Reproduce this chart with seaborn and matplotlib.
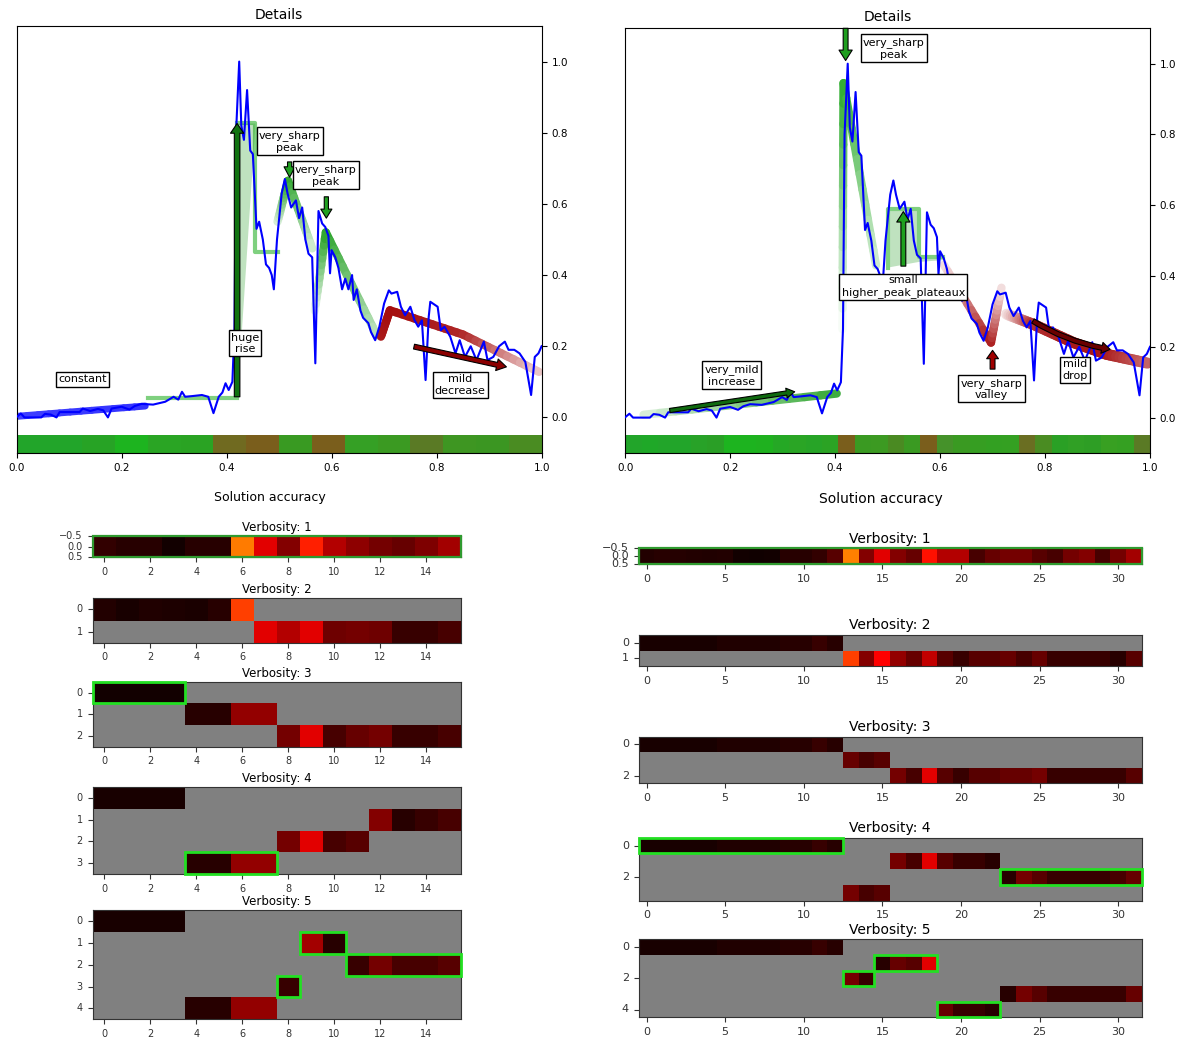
import numpy as np
import matplotlib
matplotlib.use("Agg")
import matplotlib.pyplot as plt
import seaborn as sns
from matplotlib.collections import LineCollection
from matplotlib.patches import Rectangle, Polygon
from matplotlib.colors import to_rgb

# ---------------- data ----------------
# the measured signal (same in both panels)
sig_x = [0.0, 0.008, 0.015, 0.03, 0.047, 0.054, 0.065, 0.076, 0.082, 0.1,
         0.12, 0.126, 0.14, 0.155, 0.165, 0.174, 0.181, 0.2, 0.215, 0.225,
         0.238, 0.26, 0.283, 0.29, 0.299, 0.308, 0.315, 0.321, 0.335, 0.353,
         0.365, 0.375, 0.385, 0.392, 0.398, 0.404, 0.411, 0.415, 0.418, 0.424,
         0.428, 0.433, 0.439, 0.445, 0.45, 0.457, 0.462, 0.469, 0.475, 0.481,
         0.486, 0.49, 0.496, 0.505, 0.511, 0.516, 0.523, 0.532, 0.538, 0.544,
         0.55, 0.556, 0.563, 0.569, 0.575, 0.582, 0.588, 0.594, 0.597, 0.6,
         0.607, 0.613, 0.62, 0.626, 0.632, 0.639, 0.642, 0.648, 0.655, 0.66,
         0.67, 0.675, 0.683, 0.691, 0.7, 0.709, 0.714, 0.725, 0.732, 0.74,
         0.75, 0.758, 0.765, 0.772, 0.779, 0.785, 0.788, 0.797, 0.802, 0.808,
         0.815, 0.826, 0.836, 0.844, 0.854, 0.865, 0.876, 0.89, 0.897, 0.908,
         0.919, 0.93, 0.937, 0.948, 0.958, 0.969, 0.98, 0.987, 0.994, 1.0]
sig_y = [0.001, 0.011, 0.0, 0.0, 0.0, 0.01, 0.008, 0.0, 0.015, 0.015,
         0.015, 0.025, 0.018, 0.024, 0.02, 0.0, 0.025, 0.03, 0.022, 0.032,
         0.038, 0.036, 0.044, 0.05, 0.058, 0.05, 0.072, 0.058, 0.06, 0.063,
         0.058, 0.012, 0.058, 0.07, 0.096, 0.077, 0.1, 0.25, 0.8, 1.0,
         0.82, 0.78, 0.92, 0.75, 0.74, 0.53, 0.55, 0.5, 0.43, 0.42,
         0.4, 0.36, 0.5, 0.63, 0.67, 0.63, 0.59, 0.61, 0.56, 0.59,
         0.5, 0.46, 0.45, 0.152, 0.58, 0.545, 0.535, 0.51, 0.405, 0.47,
         0.45, 0.42, 0.36, 0.39, 0.36, 0.4, 0.33, 0.36, 0.3, 0.28,
         0.265, 0.24, 0.217, 0.255, 0.32, 0.357, 0.348, 0.353, 0.311, 0.287,
         0.311, 0.273, 0.255, 0.273, 0.105, 0.283, 0.325, 0.316, 0.311, 0.245,
         0.255, 0.227, 0.18, 0.217, 0.17, 0.2, 0.161, 0.213, 0.161, 0.17,
         0.2, 0.213, 0.19, 0.19, 0.18, 0.156, 0.063, 0.17, 0.18, 0.2]

# colour strips under the details plots (one colour per segment)
left_strip = ["#22a52a", "#22a52a", "#27a325", "#1db41f", "#2aa524", "#2aa323",
              "#706a20", "#7a5e1c", "#399a22", "#7a5e1c", "#35a025", "#3b9a22",
              "#5a7a25", "#3e9622", "#3b9622", "#4a8c22"]
right_strip = ["#22a52a", "#1fa828", "#22a52a", "#22a52a", "#28a228", "#2a9f26",
               "#1db41f", "#1db31f", "#1fb11f", "#25a825", "#2aa525", "#27a427",
               "#2ba324", "#7a5e1c", "#3a9a22", "#3c9a22", "#4a8a22", "#3a9a22",
               "#7a5e1c", "#45922a", "#3a9a22", "#369e22", "#33a022", "#34a022",
               "#6a6e22", "#4a8c22", "#2aa025", "#30a025", "#2e9e25", "#38a022",
               "#35a022", "#5a7a25"]

# trend overlays: (x, y, strength at each vertex)
left_const = ([0.0, 0.245], [0.003, 0.032], [0.75, 0.8])
left_peak1 = ([0.497, 0.517, 0.563], [0.55, 0.665, 0.475], [0.15, 0.95, 0.2])
left_peak2 = ([0.568, 0.589, 0.686], [0.30, 0.52, 0.231], [0.05, 0.95, 0.3])
left_fall = ([0.694, 0.711, 0.85, 0.995], [0.227, 0.301, 0.233, 0.128], [0.9, 0.95, 0.85, 0.2])
left_step = ([0.25, 0.42], [0.055, 0.055])
left_plateau = ([0.42, 0.455, 0.455, 0.497], [0.826, 0.826, 0.465, 0.465])
left_wedge = [(0.418, 0.826), (0.455, 0.826), (0.425, 0.15)]

right_inc = ([0.035, 0.403], [0.008, 0.068], [0.15, 0.9])
right_spike = ([0.414, 0.416, 0.478], [0.25, 0.945, 0.43], [0.0, 0.95, 0.2])
right_valley = ([0.607, 0.697, 0.717], [0.432, 0.212, 0.367], [0.1, 0.9, 0.1])
right_drop = ([0.727, 0.777, 0.854, 0.917, 0.995], [0.292, 0.264, 0.212, 0.179, 0.154],
              [0.1, 0.8, 0.9, 0.9, 0.6])
right_plateau = ([0.501, 0.501, 0.56, 0.56, 0.606], [0.424, 0.59, 0.59, 0.455, 0.455])
right_box = [(0.501, 0.424), (0.501, 0.59), (0.56, 0.59), (0.56, 0.455),
             (0.606, 0.455), (0.606, 0.445), (0.56, 0.44)]

# arrows: start, end, fill colour, (tail, head width, head length), curvature
left_arrows = [((0.42, 0.058), (0.42, 0.826), "#117311", (0.4, 0.95, 0.7), 0),
               ((0.52, 0.718), (0.52, 0.675), "#22a022", (0.3, 0.8, 0.75), 0),
               ((0.59, 0.62), (0.59, 0.56), "#22a022", (0.3, 0.8, 0.65), 0),
               ((0.757, 0.199), (0.933, 0.142), "#8b0000", (0.35, 0.85, 0.7), 0)]
right_arrows = [((0.42, 1.10), (0.42, 1.009), "#1e9e1e", (0.35, 0.95, 0.75), 0),
                ((0.53, 0.428), (0.53, 0.582), "#1ea01e", (0.35, 0.95, 0.75), 0),
                ((0.7, 0.137), (0.7, 0.19), "#a00000", (0.35, 0.85, 0.6), 0),
                ((0.085, 0.02), (0.323, 0.073), "#0f6a0f", (0.3, 0.7, 0.6), 0),
                ((0.777, 0.273), (0.924, 0.193), "#6a0000", (0.35, 0.8, 0.6), 0.1)]

left_labels = [("constant", 0.125, 0.107), ("huge\nrise", 0.435, 0.208),
               ("very_sharp\npeak", 0.52, 0.775), ("very_sharp\npeak", 0.589, 0.68),
               ("mild\ndecrease", 0.845, 0.091)]
right_labels = [("very_mild\nincrease", 0.203, 0.118), ("very_sharp\npeak", 0.512, 1.042),
                ("small\nhigher_peak_plateaux", 0.53, 0.371),
                ("very_sharp\nvalley", 0.698, 0.081), ("mild\ndrop", 0.857, 0.135)]

# solution accuracy per verbosity: each row is (first column, values)
left_v1 = [(0, [0.06, 0.045, 0.045, 0.015, 0.043, 0.045, 0.547, 0.321,
                0.183, 0.413, 0.252, 0.198, 0.16, 0.137, 0.172, 0.229])]
left_v2 = [(0, [0.037, 0.023, 0.034, 0.029, 0.026, 0.046, 0.46]),
           (7, [0.321, 0.252, 0.321, 0.152, 0.16, 0.152, 0.069, 0.069, 0.092])]
left_v3 = [(0, [0.014, 0.014, 0.014, 0.014]),
           (4, [0.046, 0.046, 0.206, 0.206]),
           (8, [0.16, 0.321, 0.092, 0.137, 0.16, 0.069, 0.069, 0.092])]
left_v4 = [(0, [0.023, 0.023, 0.023, 0.023]),
           (12, [0.183, 0.046, 0.069, 0.092]),
           (8, [0.16, 0.321, 0.092, 0.114]),
           (4, [0.046, 0.046, 0.206, 0.206])]
left_v5 = [(0, [0.023, 0.023, 0.023, 0.023]),
           (9, [0.229, 0.046]),
           (11, [0.069, 0.16, 0.092, 0.092, 0.114]),
           (8, [0.069]),
           (4, [0.046, 0.046, 0.206, 0.206])]

right_first = [0.023, 0.023, 0.023, 0.023, 0.023, 0.034, 0.034, 0.034, 0.034,
               0.046, 0.046, 0.069, 0.046]
right_v1 = [(0, [0.037, 0.046, 0.04, 0.037, 0.034, 0.037, 0.014, 0.011, 0.014, 0.046,
                 0.046, 0.06, 0.114, 0.556, 0.183, 0.321, 0.183, 0.137, 0.39, 0.252,
                 0.252, 0.092, 0.137, 0.16, 0.16, 0.114, 0.092, 0.16, 0.183, 0.092,
                 0.16, 0.229])]
right_v2 = [(0, right_first),
            (13, [0.46, 0.183, 0.365, 0.206, 0.137, 0.275, 0.114, 0.069, 0.114, 0.114,
                  0.137, 0.092, 0.137, 0.069, 0.069, 0.069, 0.069, 0.046, 0.114])]
right_v3 = [(0, right_first),
            (13, [0.137, 0.092, 0.114]),
            (16, [0.16, 0.092, 0.321, 0.114, 0.069, 0.114, 0.114, 0.137, 0.137, 0.16,
                  0.069, 0.069, 0.069, 0.069, 0.069, 0.114])]
right_v4 = [(0, right_first),
            (16, [0.16, 0.092, 0.321, 0.114, 0.069, 0.069, 0.046]),
            (23, [0.046, 0.16, 0.114, 0.069, 0.069, 0.069, 0.069, 0.092, 0.137]),
            (13, [0.16, 0.092, 0.114])]
right_v5 = [(0, right_first),
            (15, [0.046, 0.137, 0.114, 0.321]),
            (13, [0.16, 0.069]),
            (23, [0.046, 0.16, 0.114, 0.069, 0.069, 0.069, 0.069, 0.069, 0.137]),
            (19, [0.137, 0.069, 0.069, 0.046])]

# chosen solutions (row, first col, last col)
left_boxes = {1: [], 2: [], 3: [(0, 0, 3)], 4: [(3, 4, 7)],
              5: [(1, 9, 10), (2, 11, 15), (3, 8, 8)]}
right_boxes = {1: [], 2: [], 3: [], 4: [(0, 0, 12), (2, 23, 31)],
               5: [(1, 15, 18), (2, 13, 14), (4, 19, 22)]}

# ---------------- helpers ----------------
W, H = 1177, 1038
fig = plt.figure(figsize=(W / 100, H / 100), dpi=100)


def px_axes(l, t, r, b):
    return fig.add_axes([l / W, 1 - b / H, (r - l) / W, (b - t) / H])


def trend(ax, line, color, lw):
    # thick fading stroke, colours blended with the white background
    xs, ys, al = line
    rgb = np.array(to_rgb(color))
    t = np.linspace(0, 1, 13)
    segs, cols = [], []
    for i in range(len(xs) - 1):
        px = xs[i] + (xs[i + 1] - xs[i]) * t
        py = ys[i] + (ys[i + 1] - ys[i]) * t
        pa = al[i] + (al[i + 1] - al[i]) * t
        for k in range(len(t) - 1):
            a = (pa[k] + pa[k + 1]) / 2
            segs.append([(px[k], py[k]), (px[k + 1], py[k + 1])])
            cols.append(tuple(rgb * a + (1 - a)))
    ax.add_collection(LineCollection(segs, colors=cols, linewidths=lw,
                                     capstyle="round", zorder=2))


def arrow(ax, start, end, color, size, rad):
    tw, hw, hl = size
    ax.annotate("", xy=end, xytext=start, zorder=5,
                arrowprops=dict(arrowstyle=f"simple,head_length={hl},head_width={hw},tail_width={tw}",
                                fc=color, ec="black", lw=0.8, shrinkA=0, shrinkB=0,
                                mutation_scale=10, connectionstyle=f"arc3,rad={rad}"))


def details(ax, strip, labels, arrows):
    n = len(strip)
    ax.bar(np.arange(n) / n, 0.05, width=1 / n, bottom=-0.1, align="edge",
           color=strip, linewidth=0, zorder=1)
    sns.lineplot(x=sig_x, y=sig_y, ax=ax, color="blue", lw=1.5, zorder=3)
    for a in arrows:
        arrow(ax, *a)
    for txt, x, y in labels:
        ax.text(x, y, txt, ha="center", va="center", fontsize=8, zorder=6,
                bbox=dict(boxstyle="square,pad=0.2", fc="white", ec="black", lw=1))
    ax.set_xlim(0, 1)
    ax.set_ylim(-0.1, 1.1)
    ax.set_xticks(np.arange(0, 1.01, 0.2))
    ax.set_yticks(np.arange(0, 1.01, 0.2))
    ax.yaxis.tick_right()
    ax.tick_params(labelsize=7.5)
    ax.set_xlabel("")
    ax.set_ylabel("")
    ax.set_title("Details", fontsize=10, pad=5)


def heat(ax, v, rows, ncol, boxes, xstep, ystep, fs_tick, fs_title, pad):
    mat = np.full((len(rows), ncol), np.nan)
    for r, (start, vals) in enumerate(rows):
        mat[r, start:start + len(vals)] = vals
    sns.heatmap(mat, cmap="hot", vmin=0, vmax=1, cbar=False, ax=ax)
    ax.set_facecolor("#808080")
    for sp in ax.spines.values():
        sp.set_visible(True)
        sp.set_linewidth(0.8)
        sp.set_color("#333333")
    xt = np.arange(0, ncol, xstep)
    ax.set_xticks(xt + 0.5)
    ax.set_xticklabels([str(i) for i in xt], rotation=0)
    if len(rows) == 1:
        ax.set_yticks([0, 0.5, 1])
        ax.set_yticklabels(["\u22120.5", "0.0", "0.5"], rotation=0)
        ax.add_patch(Rectangle((0, 0), ncol, 1, fill=False, ec="#2f9a2f", lw=1.6,
                               clip_on=False, zorder=4))
    else:
        yt = np.arange(0, len(rows), ystep)
        ax.set_yticks(yt + 0.5)
        ax.set_yticklabels([str(i) for i in yt], rotation=0)
    ax.tick_params(labelsize=fs_tick, length=3.5, width=0.8, colors="#333333")
    for r, c0, c1 in boxes:
        ax.add_patch(Rectangle((c0, r), c1 - c0 + 1, 1, fill=False, ec="#22e022", lw=2,
                               clip_on=False, zorder=4))
    ax.set_title(f"Verbosity: {v}", fontsize=fs_title, pad=pad)


# ---------------- left details ----------------
axL = px_axes(16.6, 26, 541.6, 453)
trend(axL, left_const, "blue", 5)
axL.plot(*left_step, color="#7fd07f", lw=3, zorder=2)
axL.plot(*left_plateau, color="#7fd07f", lw=3, zorder=2)
axL.add_patch(Polygon(left_wedge, closed=True, fc="#2ca02c", alpha=0.3, lw=0, zorder=2))
trend(axL, left_peak1, "#22a022", 6)
trend(axL, left_peak2, "#22a022", 6)
trend(axL, left_fall, "#a00000", 6)
details(axL, left_strip, left_labels, left_arrows)

# ---------------- right details ----------------
axR = px_axes(625.2, 28.3, 1150, 453)
trend(axR, right_inc, "#22a022", 6)
trend(axR, right_spike, "#22a822", 6)
axR.add_patch(Polygon(right_box, closed=True, fc="#2ca02c", alpha=0.3, lw=0, zorder=2))
axR.plot(*right_plateau, color="#7fd07f", lw=3, zorder=2)
trend(axR, right_valley, "#a00000", 6)
trend(axR, right_drop, "#a00000", 8)
details(axR, right_strip, right_labels, right_arrows)

# ---------------- solution accuracy ----------------
fig.text(270 / W, 1 - 497 / H, "Solution accuracy", ha="center", va="center", fontsize=9)
fig.text(881 / W, 1 - 499.3 / H, "Solution accuracy", ha="center", va="center", fontsize=10)

left_sets = [left_v1, left_v2, left_v3, left_v4, left_v5]
left_rows = [(535.7, 557.3), (598.3, 642.7), (681.7, 746.7), (786.7, 874.3), (910, 1019.3)]
for i, (rows, (t, b)) in enumerate(zip(left_sets, left_rows)):
    ax = px_axes(92.5, t, 461, b)
    heat(ax, i + 1, rows, 16, left_boxes[i + 1], 2, 1, 7, 8.5, 3.5)

right_sets = [right_v1, right_v2, right_v3, right_v4, right_v5]
right_rows = [(548.3, 564), (635, 666), (736.7, 783.3), (837.7, 900.7), (939.3, 1017.3)]
right_ystep = [1, 1, 2, 2, 2]
for i, (rows, (t, b)) in enumerate(zip(right_sets, right_rows)):
    ax = px_axes(638.7, t, 1141.7, b)
    heat(ax, i + 1, rows, 32, right_boxes[i + 1], 5, right_ystep[i], 8, 10, 4)

fig.savefig("out.png", dpi=100)
